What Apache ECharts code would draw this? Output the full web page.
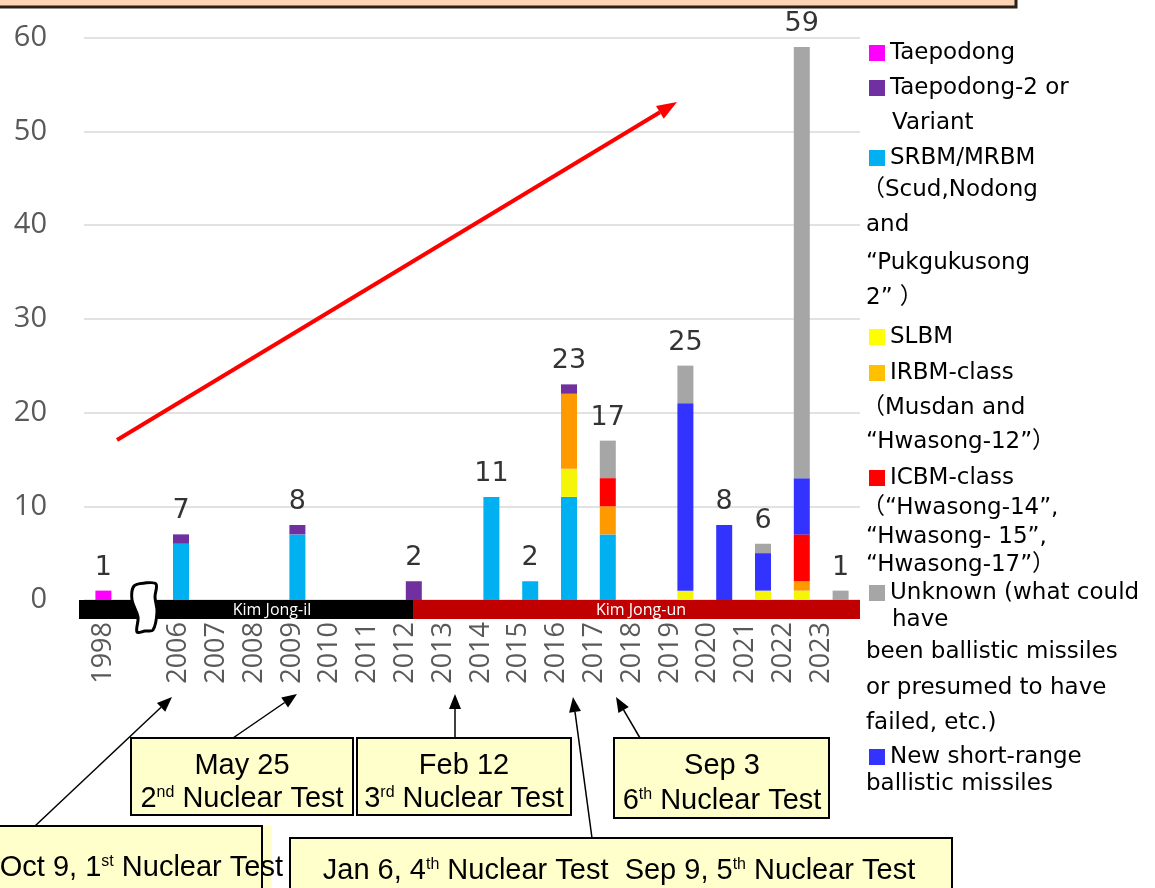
<!DOCTYPE html>
<html>
<head>
<meta charset="utf-8">
<script src="https://cdn.jsdelivr.net/npm/echarts/dist/echarts.min.js"></script>
<style>
html,body{margin:0;padding:0;background:#fff}
#chart{width:1155px;height:888px}
</style>
</head>
<body>
<div id="chart"></div>
<script>
// categories (the blank one is the axis break between 1998 and 2006)
const years = ['1998','','2006','2007','2008','2009','2010','2011','2012','2013','2014','2015','2016','2017','2018','2019','2020','2021','2022','2023'];
// launches per type
const taepodong  = [1,0,0,0,0,0,0,0,0,0,0,0,0,0,0,0,0,0,0,0];
const srbm       = [0,0,6,0,0,7,0,0,0,0,11,2,11,7,0,0,0,0,0,0];
const slbm       = [0,0,0,0,0,0,0,0,0,0,0,0,3,0,0,1,0,1,1,0];
const irbm       = [0,0,0,0,0,0,0,0,0,0,0,0,8,3,0,0,0,0,1,0];
const icbm       = [0,0,0,0,0,0,0,0,0,0,0,0,0,3,0,0,0,0,5,0];
const newSrbm    = [0,0,0,0,0,0,0,0,0,0,0,0,0,0,0,20,8,4,6,0];
const taepodong2 = [0,0,1,0,0,1,0,0,2,0,0,0,1,0,0,0,0,0,0,0];
const unknown    = [0,0,0,0,0,0,0,0,0,0,0,0,0,4,0,4,0,1,46,1];

const LEG_FONT = "'DejaVu Sans','Noto Sans CJK JP'";
const NUM_FONT = "'Open Sans'";
const BOX_FONT = "'Liberation Sans'";

// stack order bottom -> top
const stackList = [
  {name:'Taepodong', data:taepodong, color:'#FF00FF'},
  {name:'SRBM/MRBM', data:srbm, color:'#00B0F0'},
  {name:'SLBM', data:slbm, color:'#F5F50A'},
  {name:'IRBM-class', data:irbm, color:'#FF9900'},
  {name:'ICBM-class', data:icbm, color:'#FF0000'},
  {name:'New short-range', data:newSrbm, color:'#3333FF'},
  {name:'Taepodong-2 or', data:taepodong2, color:'#7030A0'},
  {name:'Unknown (what could', data:unknown, color:'#A6A6A6'}
];

const totals = years.map((y,i)=>{
  const s = stackList.reduce((a,it)=>a+it.data[i],0);
  return s>0 ? s : null;
});

// legend rows: first line goes in the legend, the rest are plain text
const legendRows = [
  {name:'Taepodong', y:53, icon:'#FF00FF'},
  {name:'Taepodong-2 or', y:88, icon:'#7030A0'},
  {name:'SRBM/MRBM', y:158, icon:'#00B0F0'},
  {name:'SLBM', y:337, icon:'#FFFF00'},
  {name:'IRBM-class', y:373, icon:'#FFC000'},
  {name:'ICBM-class', y:478, icon:'#FF0000'},
  {name:'Unknown (what could', y:593, icon:'#A6A6A6'},
  {name:'New short-range', y:757, icon:'#3333FF'}
];
const legendMore = [
  ['Variant',892,123],
  ['（Scud,Nodong',862,190],['and',866,225],['“Pukgukusong',866,263],['2” ）',866,298],
  ['（Musdan and',862,408],['“Hwasong-12”）',866,442],
  ['（“Hwasong-14”,',862,508],['“Hwasong- 15”,',866,537],['“Hwasong-17”）',866,565],
  ['have',892,620],['been ballistic missiles',866,652],['or presumed to have',866,688],['failed, etc.)',866,723],
  ['ballistic missiles',866,784]
];

function arrow(x1,y1,x2,y2,color,w,hl,hw){
  const a = Math.atan2(y2-y1,x2-x1);
  const bx = x2-hl*Math.cos(a), by = y2-hl*Math.sin(a);
  const px = Math.sin(a)*hw/2, py = -Math.cos(a)*hw/2;
  return [
    {type:'line', z:20, shape:{x1:x1,y1:y1,x2:bx,y2:by}, style:{stroke:color,lineWidth:w}},
    {type:'polygon', z:20, shape:{points:[[x2,y2],[bx+px,by+py],[bx-px,by-py]]}, style:{fill:color}}
  ];
}
function txt(t,x,y,opt){
  return {type:'text', z:25, style:Object.assign({text:t,x:x,y:y,
    align:'center',textAlign:'center',verticalAlign:'middle',textVerticalAlign:'middle',
    fontSize:29,fontFamily:BOX_FONT,fill:'#000'},opt||{})};
}
const boxRich = {
  n:{fontSize:29,fontFamily:BOX_FONT,color:'#000'},
  s:{fontSize:16,fontFamily:BOX_FONT,color:'#000',verticalAlign:'top'}
};
function box(x,y,w,h){
  return {type:'rect', z:15, shape:{x:x,y:y,width:w,height:h}, style:{fill:'#FFFFCC',stroke:'#000',lineWidth:2}};
}

const graphics = [
  // banner at the top
  {type:'rect', z:5, shape:{x:-4,y:-6,width:1020,height:13}, style:{fill:'#FCD5B4',stroke:'#2B2118',lineWidth:3}},
  // leader bands
  {type:'rect', z:10, shape:{x:79,y:600,width:334,height:19}, style:{fill:'#000'}},
  {type:'rect', z:10, shape:{x:413,y:600,width:447,height:19}, style:{fill:'#C00000'}},
  txt('Kim Jong-il',272,610,{fontSize:16,fontFamily:"'Open Sans'",fill:'#fff'}),
  txt('Kim Jong-un',641,610,{fontSize:16,fontFamily:"'Open Sans'",fill:'#fff'}),
  // axis break
  {type:'polygon', z:12, shape:{smooth:0.35, points:[
      [134,586],[145,583],[156,584],[155,597],[157,612],[153,630],[145,631],[137,632],[138,617],[132,600]]},
    style:{fill:'#fff',stroke:'#000',lineWidth:3}},
  // red trend arrow
  ...arrow(117,440,677,102,'#FF0000',4,20,15),
  // nuclear test boxes
  box(131,738,222,77), box(357,738,214,77), box(614,738,215,80),
  box(290,838,662,60),
  {type:'rect', z:15, shape:{x:-5,y:826,width:277,height:70}, style:{fill:'#FFFFCC'}},
  txt('{n|Oct 9, 1}{s|st}{n| Nuclear Test}',283,868,{rich:boxRich,align:'right',textAlign:'right'}),
  {type:'polyline', z:26, shape:{points:[[-5,826],[262,826],[262,896]]}, style:{stroke:'#000',lineWidth:2,fill:null}},
  txt('May 25',242,766),
  txt('{n|2}{s|nd}{n| Nuclear Test}',242,799,{rich:boxRich}),
  txt('Feb 12',464,766),
  txt('{n|3}{s|rd}{n| Nuclear Test}',464,799,{rich:boxRich}),
  txt('Sep 3',722,766),
  txt('{n|6}{s|th}{n| Nuclear Test}',722,801,{rich:boxRich}),
  txt('{n|Jan 6, 4}{s|th}{n| Nuclear Test  Sep 9, 5}{s|th}{n| Nuclear Test}',619,871,{rich:boxRich}),
  ...arrow(35,826,172,697,'#000',1.5,15,12),
  ...arrow(233,738,297,694,'#000',1.5,15,12),
  ...arrow(455,738,455,694,'#000',1.5,15,12),
  ...arrow(640,738,616,697,'#000',1.5,15,12),
  ...arrow(592,838,573,697,'#000',1.5,15,12),
  // legend continuation lines
  ...legendMore.map(r=>txt(r[0],r[1],r[2],{fontSize:23,fontFamily:LEG_FONT,align:'left',textAlign:'left'}))
];

const chart = echarts.init(document.getElementById('chart'));
const option = {
  backgroundColor:'#fff',
  animation:false,
  grid:[
    {left:84, top:37.5, width:776, height:562.5, outerBoundsMode:'none', containLabel:false},
    {left:84, top:37.5, width:756, height:562.5, outerBoundsMode:'none', containLabel:false}
  ],
  legend: legendRows.map(r=>({
    data:[{name:r.name, itemStyle:{color:r.icon}}],
    left:869, top:r.y-13, padding:0, orient:'vertical',
    itemWidth:16, itemHeight:16, icon:'rect', selectedMode:false,
    textStyle:{fontFamily:LEG_FONT, fontSize:23, color:'#000', lineHeight:26}
  })),
  xAxis:[
    {type:'category', gridIndex:0, data:years,
      axisLine:{show:false}, axisTick:{show:false}, axisLabel:{show:false}, splitLine:{show:false}},
    {type:'category', gridIndex:1, data:years,
      axisLine:{show:false}, axisTick:{show:false}, splitLine:{show:false},
      axisLabel:{rotate:90, margin:22, interval:0, fontFamily:NUM_FONT, fontSize:27, color:'#595959'}}
  ],
  yAxis:[
    {type:'value', gridIndex:0, min:0, max:60, interval:10,
      axisLine:{show:false}, axisTick:{show:false},
      axisLabel:{margin:37, fontFamily:NUM_FONT, fontSize:29, color:'#595959'},
      splitLine:{lineStyle:{color:'#D9D9D9', width:1.5}}},
    {type:'value', gridIndex:1, min:0, max:60, show:false, splitLine:{show:false}}
  ],
  series:[
    ...stackList.map(s=>({
      name:s.name, type:'bar', stack:'all', xAxisIndex:0, yAxisIndex:0,
      barWidth:16, data:s.data, itemStyle:{color:s.color}
    })),
    {name:'total', type:'scatter', xAxisIndex:0, yAxisIndex:0, data:totals,
      symbolSize:1, itemStyle:{color:'rgba(0,0,0,0)'}, silent:true,
      label:{show:true, position:'top', distance:9, fontFamily:LEG_FONT, fontSize:27, color:'#000'}}
  ],
  graphic:{elements:graphics}
};
chart.setOption(option);
</script>
</body>
</html>
